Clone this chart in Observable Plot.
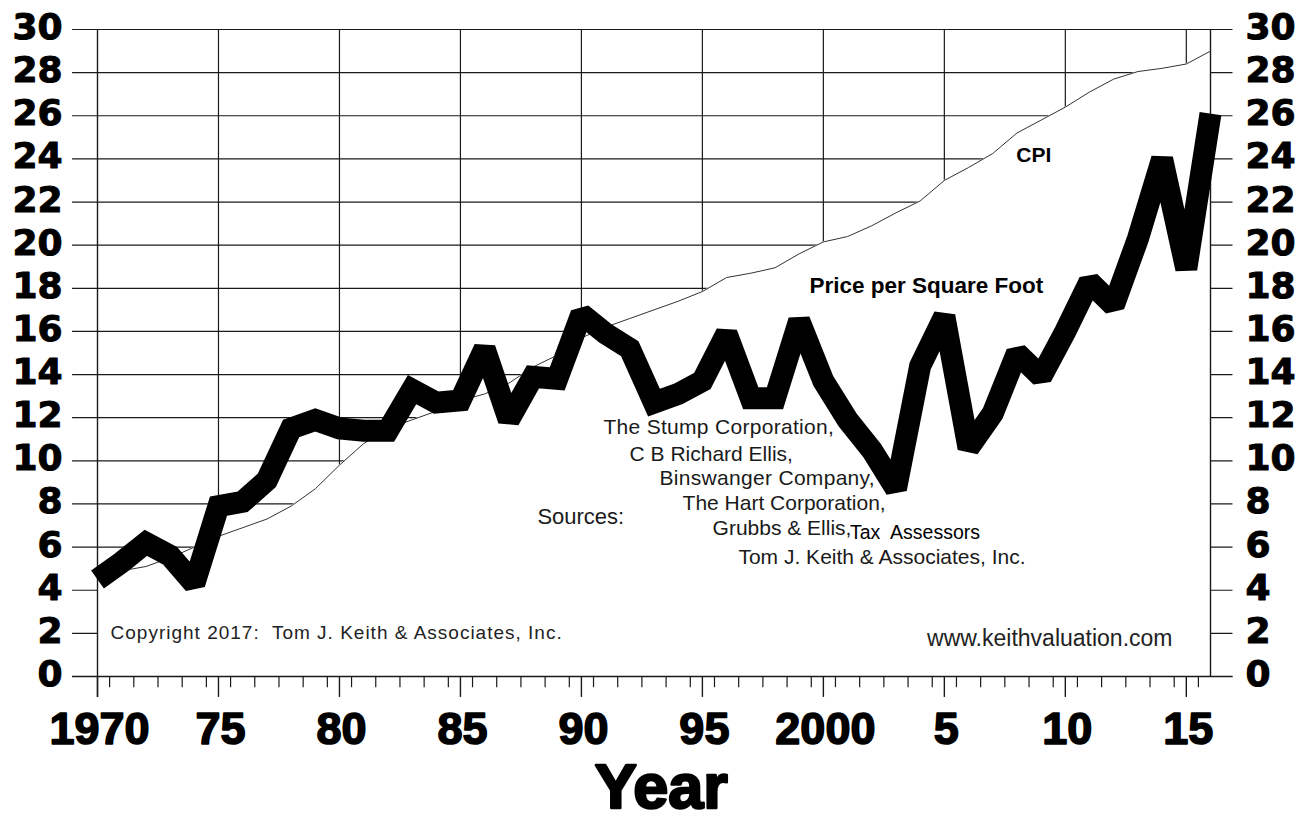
<!DOCTYPE html>
<html>
<head>
<meta charset="utf-8">
<script src="https://cdn.jsdelivr.net/npm/d3@7"></script>
<script src="https://cdn.jsdelivr.net/npm/@observablehq/plot@0.6"></script>
<style>
  html, body { margin: 0; padding: 0; background: #fff; overflow: hidden; }
  #chart svg { display: block; background: #fff; }
</style>
</head>
<body>
<div id="chart"></div>
<script>
// ---- data ----
const years = [1970,1971,1972,1973,1974,1975,1976,1977,1978,1979,
               1980,1981,1982,1983,1984,1985,1986,1987,1988,1989,
               1990,1991,1992,1993,1994,1995,1996,1997,1998,1999,
               2000,2001,2002,2003,2004,2005,2006,2007,2008,2009,
               2010,2011,2012,2013,2014,2015,2016];
const pricePerSqFt = [4.5,5.3,6.2,5.6,4.3,7.9,8.1,9.1,11.5,11.9,
                      11.5,11.4,11.4,13.3,12.7,12.8,15.2,11.9,13.9,13.8,
                      16.8,15.9,15.2,12.7,13.1,13.7,15.9,12.9,12.9,16.5,
                      13.7,11.9,10.5,8.7,14.4,16.7,10.6,12.2,15.0,13.9,
                      16.0,18.3,17.2,20.3,24.0,18.9,26.1];
const cpi = [4.7,4.9,5.1,5.5,6.0,6.5,6.9,7.3,7.9,8.7,
             9.8,10.8,11.5,11.9,12.3,12.8,13.1,13.6,14.35,14.9,
             15.7,16.2,16.6,17.0,17.4,17.85,18.5,18.7,18.95,19.6,
             20.15,20.4,20.9,21.5,22.05,23.0,23.6,24.25,25.2,25.8,
             26.4,27.1,27.7,28.05,28.2,28.4,29.0];
const yTicks = [0,2,4,6,8,10,12,14,16,18,20,22,24,26,28,30];
const xMajorTicks = [1970,1975,1980,1985,1990,1995,2000,2005,2010,2015];
const xTickLabels = ["1970","75","80","85","90","95","2000","5","10","15"];
const xGridYears = [1975,1980,1985,1990,1995,2000,2005,2010,2015];
const xMinorTicks = [1970.5,1971.5,1972.5,1973.5,1974.5,1975.5,1976.5,1977.5,1978.5,1979.5,
                     1980.5,1981.5,1982.5,1983.5,1984.5,1985.5,1986.5,1987.5,1988.5,1989.5,
                     1990.5,1991.5,1992.5,1993.5,1994.5,1995.5,1996.5,1997.5,1998.5,1999.5,
                     2000.5,2001.5,2002.5,2003.5,2004.5,2005.5,2006.5,2007.5,2008.5,2009.5,
                     2010.5,2011.5,2012.5,2013.5,2014.5,2015.5];
const sourceLines = ["The Stump Corporation,", "C B Richard Ellis,", "Binswanger Company,",
                     "The Hart Corporation,", "Grubbs & Ellis,", "Tom J. Keith & Associates, Inc."];
const copyrightText = "Copyright 2017:  Tom J. Keith & Associates, Inc.";

const table = years.map((year, i) => ({year, price: pricePerSqFt[i], cpi: cpi[i]}));
const xMajor = xMajorTicks.map((year, i) => ({year, label: xTickLabels[i]}));

const SANS = "Liberation Sans, Arial, Helvetica, sans-serif";
const HEAVY = "DejaVu Sans, Verdana, sans-serif";
const x0 = 1970, x1 = 2016;

const note = (text, x, y, opts = {}) => Plot.text([text], {
  x, y, text: d => d, textAnchor: "start", lineAnchor: "middle",
  fontFamily: SANS, fontSize: 21, fill: "#1a1a1a", ...opts
});

const chart = Plot.plot({
  width: 1307,
  height: 821,
  marginLeft: 97,
  marginRight: 97,
  marginTop: 29,
  marginBottom: 145,
  style: {fontFamily: SANS, background: "#fff", overflow: "visible"},
  x: {domain: [x0, x1], axis: null},
  y: {domain: [0, 30], axis: null},
  marks: [
    // grid + outward ticks on both sides
    Plot.ruleY(yTicks, {y: d => d, x1: 1968.97, x2: 2016.93, stroke: "#1a1a1a", strokeWidth: 1.2}),
    Plot.ruleX(xGridYears, {x: d => d, y1: 0, y2: 30, stroke: "#1a1a1a", strokeWidth: 1.2}),
    // white area under CPI hides the grid
    Plot.areaY(table, {x: "year", y1: 0, y2: "cpi", fill: "white"}),
    // axes frame
    Plot.ruleY([0], {x1: 1968.97, x2: 2016.93, stroke: "#1a1a1a", strokeWidth: 1.4}),
    Plot.ruleX([x0], {y1: -0.97, y2: 30, stroke: "#1a1a1a", strokeWidth: 1.4}),
    Plot.ruleX([x1], {y1: 0, y2: 30, stroke: "#1a1a1a", strokeWidth: 1.4}),
    Plot.ruleX(xMinorTicks, {x: d => d, y1: 0, y2: -0.52, stroke: "#1a1a1a", strokeWidth: 1.2}),
    Plot.ruleX(xMajorTicks, {x: d => d, y1: 0, y2: -0.97, stroke: "#1a1a1a", strokeWidth: 1.4}),
    // series
    Plot.line(table, {x: "year", y: "cpi", stroke: "#333", strokeWidth: 1}),
    Plot.line(table, {x: "year", y: "price", stroke: "#000", strokeWidth: 22,
                      strokeLinejoin: "miter", strokeMiterlimit: 1.6, strokeLinecap: "butt"}),
    // tick labels
    Plot.text(yTicks, {x: x0, y: d => d, text: d => String(d), textAnchor: "end", dx: -35, dy: -2,
                       fontFamily: HEAVY, fontWeight: "bold", fontSize: 36, fill: "#000",
                       stroke: "#000", strokeWidth: 1}),
    Plot.text(yTicks, {x: x1, y: d => d, text: d => String(d), textAnchor: "start", dx: 35, dy: -2,
                       fontFamily: HEAVY, fontWeight: "bold", fontSize: 36, fill: "#000",
                       stroke: "#000", strokeWidth: 1}),
    Plot.text(xMajor, {x: "year", y: 0, text: "label", textAnchor: "middle", dx: 2, dy: 53,
                       fontFamily: SANS, fontWeight: "bold", fontSize: 45, fill: "#000",
                       stroke: "#000", strokeWidth: 1.6}),
    Plot.text(["Year"], {x: 1993.3, y: 0, text: d => d, textAnchor: "middle", dy: 111,
                         fontFamily: SANS, fontWeight: "bold", fontSize: 63, fill: "#000",
                         stroke: "#000", strokeWidth: 2.5}),
    // series labels
    note("CPI", 2008.7, 24.15, {textAnchor: "middle", fontWeight: "bold", fontSize: 21, fill: "#000"}),
    note("Price per Square Foot", 2004.26, 18.13, {textAnchor: "middle", fontWeight: "bold", fontSize: 22.5, fill: "#000"}),
    // sources
    note("Sources:", 1988.18, 7.42, {fontSize: 22}),
    note(sourceLines[0], 1990.91, 11.55),
    note(sourceLines[1], 1991.99, 10.29),
    note(sourceLines[2], 1993.23, 9.18),
    note(sourceLines[3], 1994.18, 8.02),
    note(sourceLines[4], 1995.42, 6.86),
    note("Tax  Assessors", 2001.1, 6.68, {fontSize: 19.5, fill: "#000"}),
    note(sourceLines[5], 1996.49, 5.52),
    // footer notes
    note(copyrightText, 1970.54, 2.04, {fontSize: 19, fill: "#222"}),
    note("www.keithvaluation.com", 2014.43, 1.76, {textAnchor: "end", fontSize: 23, fill: "#222"})
  ]
});
const svgTexts = d3.select(chart).selectAll("text");
svgTexts.filter(function() { return this.textContent === copyrightText; })
  .style("letter-spacing", "1px");
svgTexts.filter(function() { return this.textContent === sourceLines[0] || this.textContent === sourceLines[2]; })
  .style("letter-spacing", "0.3px");
document.getElementById("chart").appendChild(chart);
</script>
</body>
</html>
